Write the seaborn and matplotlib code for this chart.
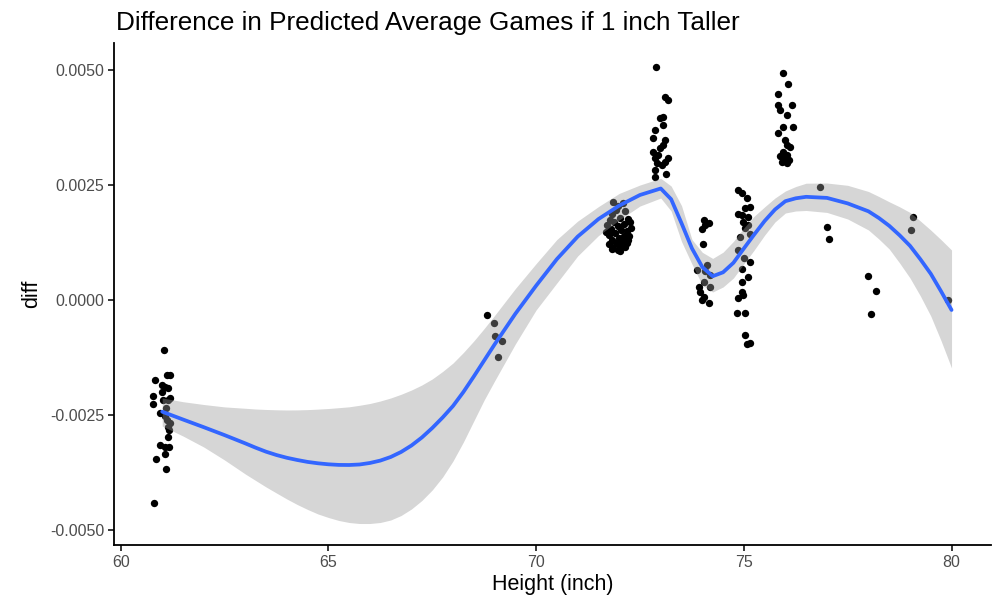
import numpy as np
import pandas as pd
import matplotlib
matplotlib.use("Agg")
import matplotlib.pyplot as plt
import seaborn as sns
from matplotlib.ticker import FixedLocator, StrMethodFormatter

# ---- observed differences, one point per player (height jittered) ----
height = [
    # ~61 in
    61.05, 61.12, 61.19, 60.83, 61.00, 61.07, 61.14, 60.78, 61.02, 61.14,
    61.19, 60.78, 60.95, 61.07, 61.12, 61.14, 61.17, 61.14, 60.95, 61.07,
    61.17, 61.07, 60.85, 61.09, 60.80, 61.00, 61.09, 61.19,
    # ~69 in
    68.81, 68.99, 69.01, 69.17, 69.08,
    # ~72 in
    71.85, 72.09, 71.97, 71.83, 72.14, 71.93, 71.78, 72.02, 72.21, 71.88,
    72.12, 71.71, 71.97, 72.26, 71.81, 72.05, 72.19, 71.90, 71.76, 72.12,
    72.00, 72.24, 71.83, 72.07, 71.93, 72.19, 71.76, 72.02, 72.14, 71.85,
    71.97, 71.83, 72.02, 72.21, 71.69, 72.29,
    # ~73 in
    72.88, 73.10, 73.18, 73.05, 72.98, 73.06, 72.86, 72.82, 73.10, 73.06,
    72.98, 72.82, 72.94, 72.86, 73.10, 72.90, 73.02, 72.86, 73.13, 72.86,
    73.18,
    # ~74 in
    74.03, 74.15, 74.07, 73.99, 74.01, 74.12, 73.87, 74.07, 74.19, 74.03,
    73.91, 74.19, 73.95, 74.03, 73.99, 74.15,
    # ~75 in
    74.87, 74.95, 75.07, 75.15, 75.03, 74.87, 74.95, 75.11, 74.99, 75.11,
    75.03, 75.15, 74.91, 74.87, 75.01, 75.15, 74.95, 75.11, 74.95, 74.95,
    74.87, 74.99, 74.83, 75.03, 75.03, 75.15, 75.07,
    # ~76 in
    75.95, 76.07, 75.83, 75.82, 76.15, 75.87, 76.03, 75.95, 76.19, 75.83,
    75.99, 76.03, 76.11, 75.95, 75.87, 76.03, 75.91, 76.03, 75.97, 76.09,
    # 77 in and taller
    76.84, 77.01, 77.06, 78.00, 78.18, 78.06, 79.08, 79.02, 79.92,
]

diff = [
    # ~61 in
    -0.00109, -0.00163, -0.00163, -0.00174, -0.00185, -0.00189, -0.00191, -0.00209, -0.00217, -0.00217,
    -0.00213, -0.00226, -0.00246, -0.00252, -0.00261, -0.00276, -0.00283, -0.00298, -0.00315, -0.00320,
    -0.00320, -0.00335, -0.00346, -0.00367, -0.00441, -0.00200, -0.00235, -0.00267,
    # ~69 in
    -0.00033, -0.00049, -0.00078, -0.00089, -0.00125,
    # ~72 in
    0.00213, 0.00211, 0.00204, 0.00187, 0.00193, 0.00196, 0.00174, 0.00178, 0.00176, 0.00170,
    0.00165, 0.00163, 0.00161, 0.00170, 0.00154, 0.00152, 0.00150, 0.00146, 0.00141, 0.00139,
    0.00135, 0.00139, 0.00130, 0.00128, 0.00124, 0.00124, 0.00122, 0.00117, 0.00115, 0.00113,
    0.00109, 0.00111, 0.00107, 0.00130, 0.00148, 0.00157,
    # ~73 in
    0.00507, 0.00442, 0.00435, 0.00398, 0.00396, 0.00380, 0.00370, 0.00352, 0.00348, 0.00338,
    0.00330, 0.00322, 0.00315, 0.00308, 0.00301, 0.00297, 0.00293, 0.00283, 0.00275, 0.00268,
    0.00309,
    # ~74 in
    0.00174, 0.00167, 0.00163, 0.00154, 0.00122, 0.00076, 0.00065, 0.00062, 0.00054, 0.00040,
    0.00029, 0.00029, 0.00018, 0.00006, 0.00000, -0.00006,
    # ~75 in
    0.00239, 0.00232, 0.00221, 0.00203, 0.00199, 0.00188, 0.00185, 0.00181, 0.00170, 0.00163,
    0.00157, 0.00143, 0.00138, 0.00109, 0.00091, 0.00083, 0.00067, 0.00051, 0.00040, 0.00018,
    0.00004, 0.00011, -0.00029, -0.00029, -0.00076, -0.00094, -0.00096,
    # ~76 in
    0.00493, 0.00469, 0.00447, 0.00425, 0.00425, 0.00413, 0.00402, 0.00377, 0.00377, 0.00362,
    0.00348, 0.00337, 0.00333, 0.00322, 0.00312, 0.00315, 0.00299, 0.00297, 0.00309, 0.00304,
    # 77 in and taller
    0.00246, 0.00159, 0.00132, 0.00052, 0.00020, -0.00031, 0.00180, 0.00152, 0.00000,
]

# ---- smoothed trend with its confidence band ----
smooth_height = [
    61.0, 61.5, 62.0, 62.5, 63.0, 63.25, 63.5, 63.75, 64.0, 64.25,
    64.5, 64.75, 65.0, 65.25, 65.5, 65.75, 66.0, 66.25, 66.5, 66.75,
    67.0, 67.25, 67.5, 67.75, 68.0, 68.25, 68.5, 68.75, 69.0, 69.5,
    70.0, 70.5, 71.0, 71.5, 72.0, 72.5, 73.0, 73.25, 73.5, 73.75,
    74.0, 74.25, 74.5, 74.75, 75.0, 75.25, 75.5, 75.75, 76.0, 76.25,
    76.5, 77.0, 77.5, 78.0, 78.25, 78.5, 78.75, 79.0, 79.25, 79.5,
    79.75, 80.0,
]
smooth_fit = [
    -0.002428, -0.002598, -0.002765, -0.002937, -0.003117, -0.003211, -0.003298, -0.003370, -0.003430, -0.003478,
    -0.003520, -0.003550, -0.003572, -0.003585, -0.003587, -0.003576, -0.003543, -0.003491, -0.003413, -0.003304,
    -0.003163, -0.002989, -0.002783, -0.002554, -0.002304, -0.002000, -0.001663, -0.001315, -0.000967, -0.000300,
    0.000311, 0.000889, 0.001378, 0.001759, 0.002052, 0.002283, 0.002424, 0.002191, 0.001670, 0.001124,
    0.000717, 0.000517, 0.000602, 0.000809, 0.001120, 0.001424, 0.001717, 0.001967, 0.002148, 0.002211,
    0.002243, 0.002220, 0.002100, 0.001928, 0.001783, 0.001613, 0.001407, 0.001178, 0.000885, 0.000570,
    0.000185, -0.000217,
]
smooth_lower = [
    -0.002739, -0.002957, -0.003196, -0.003478, -0.003783, -0.003924, -0.004065, -0.004196, -0.004326, -0.004446,
    -0.004554, -0.004652, -0.004728, -0.004793, -0.004837, -0.004859, -0.004859, -0.004837, -0.004783, -0.004685,
    -0.004543, -0.004359, -0.004130, -0.003848, -0.003500, -0.003087, -0.002630, -0.002174, -0.001761, -0.000957,
    -0.000217, 0.000370, 0.000957, 0.001400, 0.001740, 0.002043, 0.002217, 0.001935, 0.001272, 0.000783,
    0.000326, 0.000174, 0.000283, 0.000478, 0.000783, 0.001087, 0.001409, 0.001696, 0.001891, 0.001935,
    0.001946, 0.001904, 0.001761, 0.001522, 0.001326, 0.001109, 0.000804, 0.000478, 0.000087, -0.000348,
    -0.000891, -0.001478,
]
smooth_upper = [
    -0.002130, -0.002211, -0.002272, -0.002324, -0.002354, -0.002370, -0.002380, -0.002387, -0.002391, -0.002389,
    -0.002383, -0.002372, -0.002359, -0.002341, -0.002322, -0.002289, -0.002250, -0.002196, -0.002130, -0.002050,
    -0.001957, -0.001848, -0.001717, -0.001554, -0.001370, -0.001141, -0.000891, -0.000620, -0.000337, 0.000248,
    0.000791, 0.001315, 0.001715, 0.002030, 0.002317, 0.002500, 0.002646, 0.002478, 0.002052, 0.001317,
    0.001037, 0.000904, 0.001039, 0.001274, 0.001565, 0.001822, 0.002024, 0.002217, 0.002370, 0.002467,
    0.002539, 0.002543, 0.002493, 0.002359, 0.002250, 0.002135, 0.002026, 0.001904, 0.001717, 0.001520,
    0.001309, 0.001087,
]

x_ticks = [60, 65, 70, 75, 80]
y_ticks = [-0.0050, -0.0025, 0.0000, 0.0025, 0.0050]

points = pd.DataFrame({"height": height, "diff": diff})
trend = pd.DataFrame({"height": smooth_height, "fit": smooth_fit,
                      "lower": smooth_lower, "upper": smooth_upper})

sns.set_theme(style="ticks")
plt.rcParams["font.family"] = ["Liberation Sans", "DejaVu Sans"]
plt.rcParams["axes.unicode_minus"] = False

fig = plt.figure(figsize=(9.94, 6.04), dpi=100)
ax = fig.add_axes([0.1147, 0.0977, 0.8823, 0.8311])

# points first, the translucent band sits on top of them
sns.scatterplot(data=points, x="height", y="diff", color="black", s=28,
                linewidth=0, ax=ax, zorder=2)
ax.fill_between(trend["height"], trend["lower"], trend["upper"],
                color="#999999", alpha=0.4, linewidth=0, zorder=3)
sns.lineplot(data=trend, x="height", y="fit", color="#3366FF",
             linewidth=2.7, ax=ax, zorder=4)

ax.set_xlim(59.84, 80.95)
ax.set_ylim(-0.005326, 0.005587)
ax.xaxis.set_major_locator(FixedLocator(x_ticks))
ax.yaxis.set_major_locator(FixedLocator(y_ticks))
ax.yaxis.set_major_formatter(StrMethodFormatter("{x:.4f}"))

sns.despine(ax=ax)
for side in ("left", "bottom"):
    ax.spines[side].set_linewidth(1.3)
    ax.spines[side].set_color("black")
ax.tick_params(axis="both", length=4, width=1.1, color="black",
               labelsize=11.5, labelcolor="#4D4D4D", pad=3)

ax.set_xlabel("Height (inch)", fontsize=15.5, color="black", labelpad=3)
ax.set_ylabel("diff", fontsize=15.5, color="black", labelpad=6)

fig.text(0.117, 1 - 23 / 604, "Difference in Predicted Average Games if 1 inch Taller",
         fontsize=18.8, color="black", ha="left", va="center")

fig.savefig("out.png", dpi=100)
